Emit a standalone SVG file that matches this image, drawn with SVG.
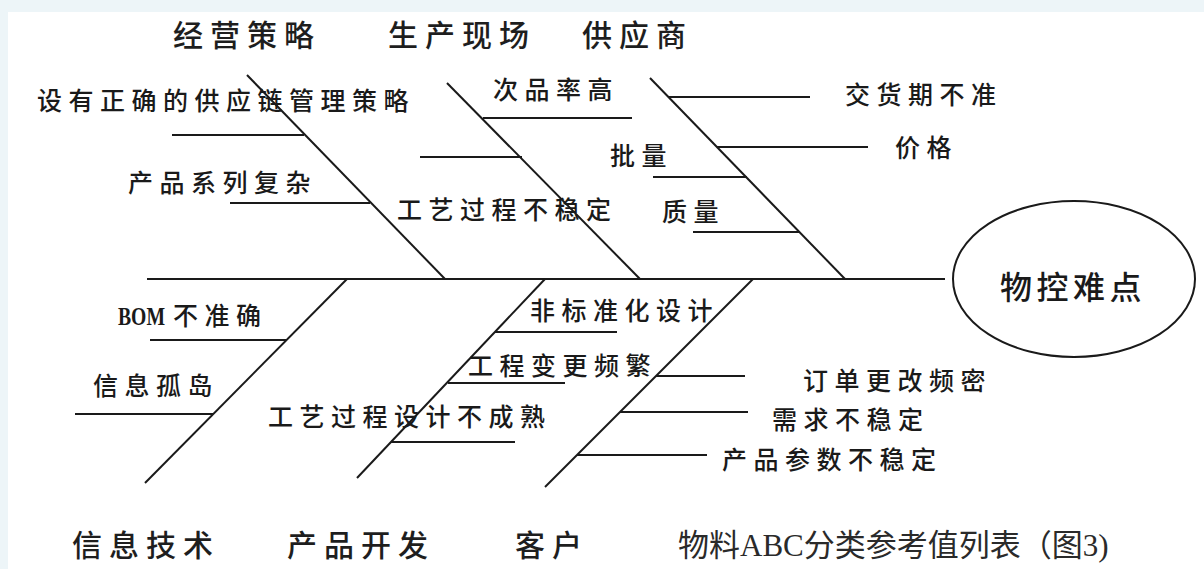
<svg xmlns="http://www.w3.org/2000/svg" width="1204" height="569" viewBox="0 0 1204 569">
<defs>
<style>
.bg{fill:#edf5f8}
.panel{fill:#ffffff}
.ln{stroke:#1a1a1a;stroke-width:2;fill:none}
.cat{font-family:"Noto Sans CJK SC","Noto Sans",sans-serif;font-size:30px;font-weight:500;letter-spacing:7px;fill:#1e1e1e}
.lb{font-family:"Noto Sans CJK SC","Noto Sans",sans-serif;font-size:25px;font-weight:500;letter-spacing:6.5px;fill:#1a1a1a}
.head{font-family:"Noto Sans CJK SC","Noto Sans",sans-serif;font-size:32px;font-weight:500;letter-spacing:4.5px;fill:#1a1a1a}
.cap{font-family:"Liberation Serif","Noto Sans CJK SC",serif;font-size:31px;fill:#2a2a2a}
.bom{font-family:"Liberation Serif",serif;font-weight:bold;font-size:25px;letter-spacing:0}
</style>
</defs>
<rect class="bg" x="0" y="0" width="1204" height="569"/>
<rect class="panel" x="8" y="12" width="1196" height="557"/>

<g id="connectors">
<line class="ln" x1="147" y1="279" x2="945" y2="279"/>
<line class="ln" x1="247" y1="75" x2="445" y2="279"/>
<line class="ln" x1="172" y1="135" x2="304" y2="135"/>
<line class="ln" x1="230" y1="203" x2="370" y2="203"/>
<line class="ln" x1="447" y1="83" x2="640" y2="279"/>
<line class="ln" x1="483" y1="118" x2="632" y2="118"/>
<line class="ln" x1="420" y1="157" x2="522" y2="157"/>
<line class="ln" x1="650" y1="78" x2="845" y2="279"/>
<line class="ln" x1="669" y1="97" x2="810" y2="97"/>
<line class="ln" x1="717" y1="147" x2="868" y2="147"/>
<line class="ln" x1="653" y1="177" x2="747" y2="177"/>
<line class="ln" x1="693" y1="232" x2="800" y2="232"/>
<line class="ln" x1="145" y1="483" x2="347" y2="279"/>
<line class="ln" x1="150" y1="340" x2="287" y2="340"/>
<line class="ln" x1="75" y1="414" x2="213" y2="414"/>
<line class="ln" x1="357" y1="478" x2="545" y2="279"/>
<line class="ln" x1="495" y1="332" x2="617" y2="332"/>
<line class="ln" x1="448" y1="383" x2="565" y2="383"/>
<line class="ln" x1="391" y1="442" x2="515" y2="442"/>
<line class="ln" x1="545" y1="487" x2="753" y2="279"/>
<line class="ln" x1="656" y1="376" x2="745" y2="376"/>
<line class="ln" x1="620" y1="412" x2="748" y2="412"/>
<line class="ln" x1="577" y1="455" x2="707" y2="455"/>
</g>

<g id="head">
<ellipse class="ln" cx="1074" cy="279" rx="121" ry="78"/>
<text class="head" x="1000" y="299">物控难点</text>
</g>

<g id="cat-jingying"><text class="cat" x="173" y="46">经营策略</text></g>
<g id="cat-shengchan"><text class="cat" x="388" y="46">生产现场</text></g>
<g id="cat-gongying"><text class="cat" x="582" y="46">供应商</text></g>
<g id="cat-xinxi"><text class="cat" x="72" y="556">信息技术</text></g>
<g id="cat-chanpin"><text class="cat" x="287" y="556">产品开发</text></g>
<g id="cat-kehu"><text class="cat" x="515" y="556">客户</text></g>

<g id="l1"><text class="lb" x="37" y="110">设有正确的供应链管理策略</text></g>
<g id="l2"><text class="lb" x="128" y="192">产品系列复杂</text></g>
<g id="l3"><text class="lb" x="493" y="99">次品率高</text></g>
<g id="l4"><text class="lb" x="397" y="219">工艺过程不稳定</text></g>
<g id="l5"><text class="lb" x="845" y="104">交货期不准</text></g>
<g id="l6"><text class="lb" x="895" y="157" letter-spacing="10">价格</text></g>
<g id="l7"><text class="lb" x="610" y="165">批量</text></g>
<g id="l8"><text class="lb" x="662" y="221">质量</text></g>
<g id="l9"><text class="lb" x="118" y="325"><tspan class="bom" textLength="47" lengthAdjust="spacingAndGlyphs">BOM</tspan><tspan x="173">不准确</tspan></text></g>
<g id="l10"><text class="lb" x="93" y="395">信息孤岛</text></g>
<g id="l11"><text class="lb" x="530" y="320" letter-spacing="5.5">非标准化设计</text></g>
<g id="l12"><text class="lb" x="468" y="375">工程变更频繁</text></g>
<g id="l13"><text class="lb" x="268" y="426">工艺过程设计不成熟</text></g>
<g id="l14"><text class="lb" x="803" y="390">订单更改频密</text></g>
<g id="l15"><text class="lb" x="772" y="429">需求不稳定</text></g>
<g id="l16"><text class="lb" x="722" y="469">产品参数不稳定</text></g>

<g id="caption"><text class="cap" x="678" y="556">物料ABC分类参考值列表（图3)</text></g>
</svg>
